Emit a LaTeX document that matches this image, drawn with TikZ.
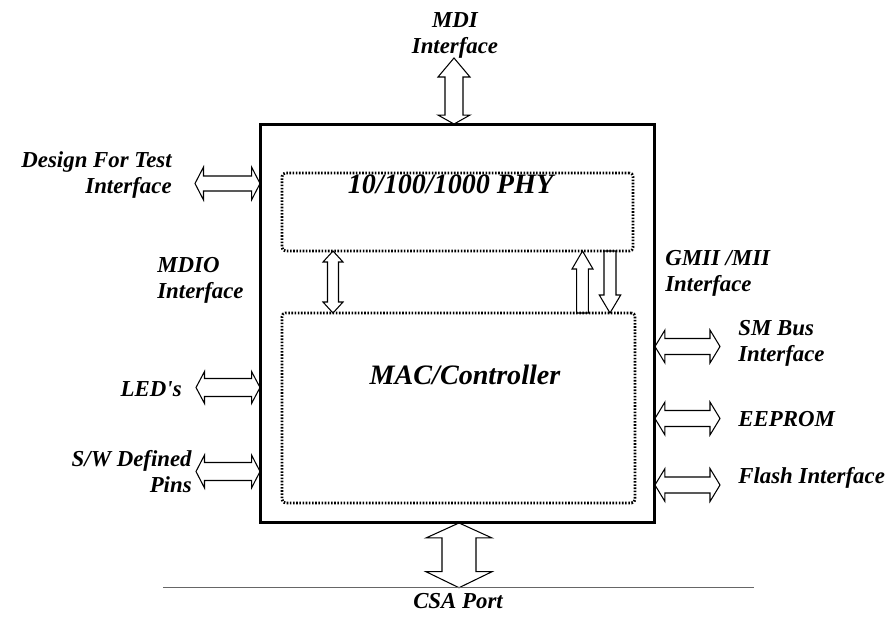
\documentclass[tikz,border=0pt]{standalone}
\usepackage{fontspec}
\setmainfont{Liberation Serif}
\usetikzlibrary{calc}
\tikzset{chip/.style={draw,line width=1.7pt,minimum width=7.9cm,minimum height=7.98cm,outer sep=0pt}}
\tikzset{block/.style={draw,line width=1.6pt,dash pattern=on 0.9pt off 0.9pt,rounded corners=2pt,outer sep=0pt}}
\tikzset{lbl/.style={font=\fontsize{13}{14.8}\selectfont\bfseries\itshape,inner sep=0pt}}
\tikzset{headline/.style={font=\fontsize{16}{18}\selectfont\bfseries\itshape,inner sep=0pt}}
\tikzset{fat/.style={draw,line width=0.6pt,line join=miter}}
\tikzset{bus/.style={draw=black!60,line width=0.85pt}}
\newcommand{\hfat}[5]{\draw[fat] (#1) -- ([shift={(#5,#3)}]#1) -- ([shift={(#5,#4)}]#1) -- ([shift={(-#5,#4)}]#2) -- ([shift={(-#5,#3)}]#2) -- (#2) -- ([shift={(-#5,-#3)}]#2) -- ([shift={(-#5,-#4)}]#2) -- ([shift={(#5,-#4)}]#1) -- ([shift={(#5,-#3)}]#1) -- cycle;}
\newcommand{\vfat}[6]{\draw[fat] (#1) -- ([shift={(#3,#5)}]#1) -- ([shift={(#4,#5)}]#1) -- ([shift={(#4,-#6)}]#2) -- ([shift={(#3,-#6)}]#2) -- (#2) -- ([shift={(-#3,-#6)}]#2) -- ([shift={(-#4,-#6)}]#2) -- ([shift={(-#4,#5)}]#1) -- ([shift={(-#3,#5)}]#1) -- cycle;}
\newcommand{\upfat}[5]{\draw[fat] (#1) -- ([shift={(#3,#5)}]#1) -- ([shift={(#4,#5)}]#1) -- ([shift={(#4,0)}]#2) -- ([shift={(-#4,0)}]#2) -- ([shift={(-#4,#5)}]#1) -- ([shift={(-#3,#5)}]#1) -- cycle;}
\newcommand{\downfat}[5]{\draw[fat] ([shift={(-#4,0)}]#1) -- ([shift={(#4,0)}]#1) -- ([shift={(#4,-#5)}]#2) -- ([shift={(#3,-#5)}]#2) -- (#2) -- ([shift={(-#3,-#5)}]#2) -- ([shift={(-#4,-#5)}]#2) -- cycle;}
\begin{document}
\begin{tikzpicture}[x=0.02cm,y=-0.02cm]
                    \useasboundingbox (0,0) rectangle (889,619);

                    \node[chip] (chip) at (457.5,323.5) {};
                    \node[block,minimum width=7.02cm,minimum height=1.56cm] (phy) at (457.5,212) {};
                    \node[block,minimum width=7.06cm,minimum height=3.8cm] (mac) at (458.5,408) {};
                    \node[headline] (phytxt) at (450.5,184) {10/100/1000 PHY};
                    \node[headline] (mactxt) at (465,375) {MAC/Controller};

                    \node[lbl,align=center] (mdi) at (455,35) {MDI\\Interface};
                    \node[lbl,align=right,anchor=east] (dft) at (172,175) {Design For Test\\Interface};
                    \node[lbl,align=left,anchor=west] (mdio) at (157,280) {MDIO\\Interface};
                    \node[lbl,anchor=east] (led) at (182,389.5) {LED\textquotesingle s};
                    \node[lbl,align=right,anchor=east] (sw) at (192,472) {S/W Defined\\Pins};
                    \node[lbl,align=left,anchor=west] (gmii) at (665,273.5) {GMII /MII\\Interface};
                    \node[lbl,align=left,anchor=west] (smb) at (738,343) {SM Bus\\Interface};
                    \node[lbl,anchor=west] (eep) at (738,419.5) {EEPROM};
                    \node[lbl,anchor=west] (flash) at (738,477.5) {Flash Interface};
                    \node[lbl] (csa) at (458,601.5) {CSA Port};

                    \coordinate (mdiT) at (454,58);
                    \coordinate (mdiB) at (mdiT |- chip.north);
                    \coordinate (mdioT) at (333,251);
                    \coordinate (mdioB) at (mdioT |- mac.north);
                    \coordinate (upT) at (582.5,251);
                    \coordinate (upB) at (upT |- mac.north);
                    \coordinate (dnT) at (610,251);
                    \coordinate (dnB) at (dnT |- mac.north);
                    \coordinate (dftL) at (195,183.5);
                    \coordinate (dftR) at (dftL -| chip.west);
                    \coordinate (ledL) at (196,387.5);
                    \coordinate (ledR) at (ledL -| chip.west);
                    \coordinate (swL) at (196,471.5);
                    \coordinate (swR) at (swL -| chip.west);
                    \coordinate (smbR) at (720,346.5);
                    \coordinate (smbL) at (smbR -| chip.east);
                    \coordinate (eepR) at (720,418.5);
                    \coordinate (eepL) at (eepR -| chip.east);
                    \coordinate (flashR) at (720,485);
                    \coordinate (flashL) at (flashR -| chip.east);
                    \coordinate (csaB) at (459,587.7);
                    \coordinate (csaT) at (csaB |- chip.south);
                    \coordinate (busL) at (163,587.7);
                    \coordinate (busR) at (754,587.7);

                    \vfat{mdiT}{mdiB}{16}{9}{19}{9}
                    \vfat{mdioT}{mdioB}{10}{5.5}{11}{11}
                    \upfat{upT}{upB}{10.5}{5.8}{18}
                    \downfat{dnT}{dnB}{10.7}{6}{18}
                    \hfat{dftL}{dftR}{16.5}{7.5}{8.5}
                    \hfat{ledL}{ledR}{16}{9}{8.5}
                    \hfat{swL}{swR}{16.5}{9}{8.5}
                    \hfat{smbL}{smbR}{16.5}{8}{10}
                    \hfat{eepL}{eepR}{16.5}{8}{10}
                    \hfat{flashL}{flashR}{16.5}{8}{10}
                    \vfat{csaT}{csaB}{33}{17}{15}{16}
                    \draw[bus] (busL) -- (busR);
                \end{tikzpicture}
\end{document}
